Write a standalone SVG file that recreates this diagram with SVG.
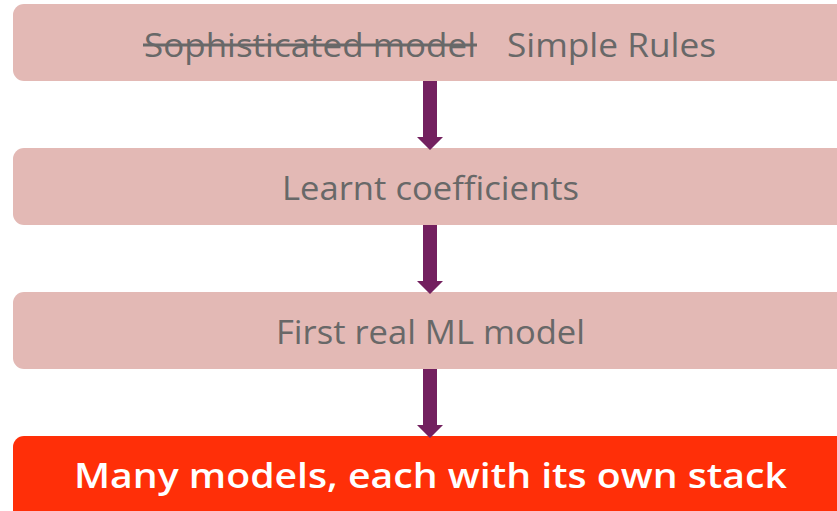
<svg xmlns="http://www.w3.org/2000/svg" width="837" height="511" viewBox="0 0 837 511">
  <defs>
    <style>
      .box { fill: #e3b9b5; }
      .hot { fill: #ff2f08; }
      .lbl { font-family: "Open Sans", "Liberation Sans", sans-serif; font-size: 32px; fill: #686868; }
      .big { font-family: "Open Sans", "Liberation Sans", sans-serif; font-size: 35px; font-weight: 600; fill: #ffffff; }
      .strike { stroke: #686868; stroke-width: 3; }
      .arrow { fill: #73205f; }
    </style>
  </defs>

  <g id="node-rules">
    <rect class="box" x="13" y="4" width="840" height="77" rx="11"/>
    <text class="lbl" x="144" y="57" textLength="332" lengthAdjust="spacingAndGlyphs">Sophisticated model</text>
    <line class="strike" x1="143" y1="45" x2="477" y2="45"/>
    <text class="lbl" x="507" y="57" textLength="209" lengthAdjust="spacingAndGlyphs">Simple Rules</text>
  </g>

  <g id="node-coefficients">
    <rect class="box" x="13" y="148" width="840" height="77" rx="11"/>
    <text class="lbl" x="282" y="200" textLength="297" lengthAdjust="spacingAndGlyphs">Learnt coefficients</text>
  </g>

  <g id="node-first-ml">
    <rect class="box" x="13" y="292" width="840" height="77" rx="11"/>
    <text class="lbl" x="276" y="344" textLength="309" lengthAdjust="spacingAndGlyphs">First real ML model</text>
  </g>

  <g id="node-many-models">
    <rect class="hot" x="13" y="436" width="840" height="90" rx="11"/>
    <text class="big" x="74" y="488" textLength="713" lengthAdjust="spacingAndGlyphs">Many models, each with its own stack</text>
  </g>

  <g id="connectors">
    <polygon class="arrow" points="423,81 437,81 437,137 443,137 430,150 417,137 423,137"/>
    <polygon class="arrow" points="423,225 437,225 437,281 443,281 430,294 417,281 423,281"/>
    <polygon class="arrow" points="423,369 437,369 437,425 443,425 430,438 417,425 423,425"/>
  </g>
</svg>
